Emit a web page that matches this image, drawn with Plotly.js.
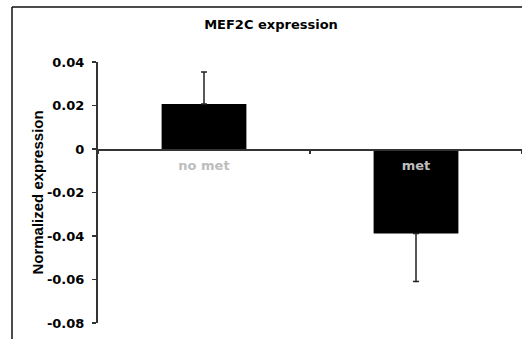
<!DOCTYPE html>
<html><head><meta charset="utf-8">
<script src="https://cdn.plot.ly/plotly-3.0.1.min.js"></script>
<style>html,body{margin:0;padding:0;background:#fff}#c{width:522px;height:339px}</style>
</head><body><div id="c"></div>
<script>
const categories = ["no met", "met"];
const values = [0.0207, -0.0389];
const errPlus = [0.0147, 0];
const errMinus = [0, 0.022];
const yTickVals = [0.04, 0.02, 0, -0.02, -0.04, -0.06, -0.08];
const yTickText = ["0.04", "0.02", "0", "-0.02", "-0.04", "-0.06", "-0.08"];

const trace = {
  type: 'bar', x: categories, y: values,
  marker: {color: '#000', line: {width: 0}},
  error_y: {type: 'data', symmetric: false, array: errPlus, arrayminus: errMinus,
            color: '#222', thickness: 1.5, width: 3},
  hoverinfo: 'none'
};
const L = 98, R = 522, T = 62, B = 323;
const W = R - L, H = B - T;
const wide = 'DejaVu Sans, Verdana, sans-serif';
layout = {
  width: 522, height: 339,
  margin: {l: L, r: 522 - R, t: T, b: 339 - B, pad: 0},
  paper_bgcolor: '#fff', plot_bgcolor: '#fff',
  showlegend: false, bargap: 0.6,
  font: {family: wide, size: 13, color: '#000'},
  title: {text: 'MEF2C expression', x: 271/522, xanchor: 'center', y: 1 - 24/339, yanchor: 'middle',
          font: {family: wide, size: 13, color: '#000', weight: 'bold'}},
  xaxis: {type: 'category', anchor: 'free', position: 2/3, showline: true, linecolor: '#333', linewidth: 1.5,
          ticks: 'outside', tickson: 'boundaries', ticklen: 3, tickcolor: '#333', tickwidth: 1.5,
          ticklabelstandoff: 4,
          tickfont: {family: wide, size: 13, color: '#bdbdbd', weight: 'bold'}, showgrid: false, zeroline: false, fixedrange: true},
  yaxis: {range: [-0.08, 0.04], tickvals: yTickVals, ticktext: yTickText,
          showline: true, linecolor: '#333', linewidth: 2, ticks: 'outside', ticklen: 4,
          tickcolor: '#333', tickwidth: 1.5, showgrid: false, zeroline: false, ticklabelstandoff: 5,
          tickfont: {family: wide, size: 13, color: '#000', weight: 'bold'},
          title: {text: 'Normalized expression', font: {family: 'Liberation Sans, Arial, sans-serif', size: 15, color: '#000', weight: 'bold'}, standoff: 0}},
  shapes: [
    {type: 'line', xref: 'paper', yref: 'paper', x0: (12 - L)/W, x1: (12 - L)/W, y0: 1 + (T - 7)/H, y1: -1,
     line: {color: '#111', width: 1.5}},
    {type: 'line', xref: 'paper', yref: 'paper', x0: (12 - L)/W, x1: 1.2, y0: 1 + (T - 7)/H, y1: 1 + (T - 7)/H,
     line: {color: '#111', width: 1.5}}
  ]
};
Plotly.newPlot('c', [trace], layout, {staticPlot: true, displayModeBar: false});
</script></body></html>
